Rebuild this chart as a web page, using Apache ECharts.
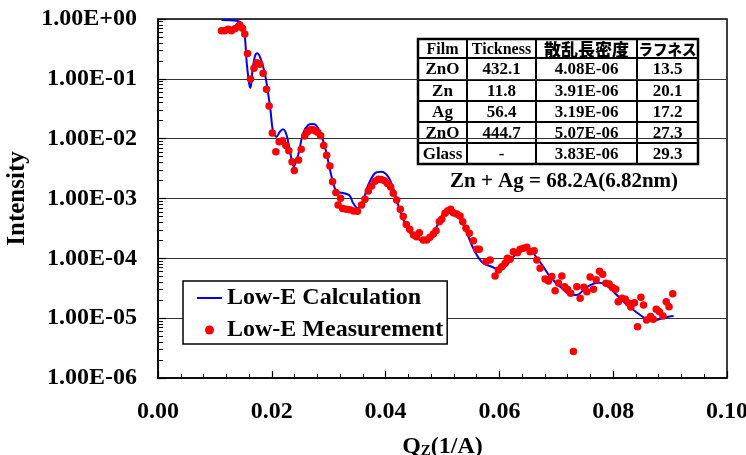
<!DOCTYPE html>
<html><head><meta charset="utf-8">
<script src="https://cdn.jsdelivr.net/npm/echarts@6/dist/echarts.min.js"></script>
<style>html,body{margin:0;padding:0;background:#fff}#c{width:746px;height:455px}</style>
</head><body><div id="c"></div>
<script>
// ---- data ----
const calcQ = [0.01115,0.01379,0.01467,0.01525,0.01555,0.01601,0.01626,0.01661,0.01701,0.01742,0.01802,0.01877,0.01935,0.01977,0.02023,0.02083,0.02141,0.02199,0.02259,0.02317,0.02387,0.02463,0.02551,0.02639,0.02727,0.02815,0.02933,0.03051,0.03139,0.03227,0.03315,0.03373,0.03431,0.03513,0.03607,0.03695,0.03812,0.03930,0.04046,0.04134,0.04222,0.04340,0.04458,0.04546,0.04692,0.04780,0.04898,0.05014,0.05132,0.05278,0.05396,0.05514,0.05602,0.05718,0.05866,0.06012,0.06130,0.06275,0.06421,0.06569,0.06685,0.06773,0.06891,0.07067,0.07273,0.07361,0.07477,0.07595,0.07741,0.07859,0.08005,0.08181,0.08357,0.08475,0.08592,0.08709,0.08856,0.08972,0.09060];
const calcI = [0.962,0.937,0.847,0.506,0.206,0.0842,0.0711,0.1406,0.2344,0.267,0.2204,0.1237,0.0573,0.0301,0.01306,0.01078,0.01306,0.01432,0.0115,0.00646,0.0034,0.00533,0.0123,0.0169,0.01758,0.0149,0.00734,0.00231,0.0013,0.00125,0.00119,0.0011,0.000831,0.000686,0.000944,0.00168,0.00264,0.00281,0.00231,0.00148,0.000778,0.000385,0.000245,0.000216,0.00019,0.000202,0.000337,0.000565,0.000686,0.00053,0.000318,0.000167,0.000114,0.0000826,0.0000724,0.0000638,0.0000773,0.000114,0.000147,0.000129,0.0000938,0.0000724,0.0000493,0.0000336,0.0000244,0.0000244,0.0000296,0.0000358,0.0000392,0.0000368,0.0000277,0.0000188,0.0000137,0.0000113,0.00000957,0.00000906,0.00000993,0.0000106,0.0000109];
const measQ = [0.01115,0.01173,0.01232,0.01291,0.01349,0.01407,0.01437,0.01485,0.01525,0.01573,0.01626,0.01687,0.01736,0.01789,0.01847,0.01907,0.01953,0.02009,0.02071,0.02129,0.02189,0.02247,0.02299,0.02356,0.02396,0.02470,0.02516,0.02577,0.02625,0.02669,0.02716,0.02760,0.02806,0.02859,0.02912,0.02963,0.03021,0.03068,0.03126,0.03165,0.03209,0.03244,0.03308,0.03373,0.03438,0.03505,0.03578,0.03637,0.03695,0.03754,0.03812,0.03871,0.03922,0.03980,0.04032,0.04089,0.04134,0.04194,0.04258,0.04310,0.04363,0.04423,0.04490,0.04543,0.04592,0.04662,0.04722,0.04780,0.04838,0.04886,0.04944,0.04986,0.05044,0.05092,0.05144,0.05190,0.05250,0.05308,0.05355,0.05413,0.05471,0.05542,0.05602,0.05647,0.05765,0.05836,0.05924,0.05982,0.06042,0.06100,0.06140,0.06188,0.06246,0.06316,0.06363,0.06421,0.06481,0.06539,0.06610,0.06657,0.06715,0.06803,0.06861,0.06921,0.06979,0.07037,0.07097,0.07146,0.07199,0.07252,0.07301,0.07361,0.07419,0.07484,0.07537,0.07595,0.07653,0.07701,0.07759,0.07815,0.07873,0.07929,0.07986,0.08044,0.08088,0.08153,0.08211,0.08269,0.08311,0.08373,0.08427,0.08487,0.08533,0.08586,0.08656,0.08703,0.08756,0.08812,0.08874,0.08932,0.08981,0.09046];
const measI = [0.637,0.637,0.673,0.637,0.688,0.744,0.794,0.699,0.562,0.265,0.0993,0.150,0.186,0.175,0.1237,0.0671,0.0351,0.01243,0.00605,0.00890,0.00925,0.00769,0.00629,0.00412,0.00294,0.00440,0.00664,0.01108,0.01292,0.01396,0.01417,0.01358,0.01282,0.01116,0.00769,0.00529,0.00349,0.00191,0.00126,0.000778,0.001007,0.000680,0.000660,0.000647,0.000618,0.000611,0.000778,0.000969,0.001334,0.001617,0.001937,0.002101,0.002077,0.001983,0.001780,0.001556,0.001221,0.000944,0.000660,0.000500,0.000367,0.000306,0.000245,0.000230,0.000268,0.000202,0.000202,0.000225,0.000255,0.000289,0.000409,0.000449,0.000566,0.000625,0.000660,0.000579,0.000550,0.000510,0.000409,0.000318,0.000262,0.000197,0.0001415,0.0001415,0.0000878,0.0000938,0.0000506,0.0000638,0.0000724,0.0000826,0.0001001,0.0000963,0.000129,0.000124,0.0001415,0.000147,0.000153,0.000129,0.000134,0.0000938,0.0000681,0.0000451,0.0000418,0.0000497,0.0000288,0.0000387,0.0000506,0.0000335,0.0000301,0.0000260,0.00000277,0.0000335,0.0000215,0.0000328,0.0000277,0.0000487,0.0000303,0.0000439,0.0000607,0.0000543,0.0000382,0.0000372,0.0000325,0.0000303,0.0000188,0.0000215,0.0000207,0.0000179,0.0000154,0.0000181,0.00000720,0.0000223,0.0000166,0.00000931,0.0000107,0.00000957,0.0000141,0.0000128,0.0000109,0.0000188,0.0000155,0.0000256];
const xTickLabels = ['0.00','0.02','0.04','0.06','0.08','0.10'];
const yTickLabels = ['1.00E-06','1.00E-05','1.00E-04','1.00E-03','1.00E-02','1.00E-01','1.00E+00'];
const seriesNames = ['Low-E Calculation','Low-E Measurement'];
const tableHeader = ['Film','Tickness','散乱長密度','ラフネス'];
const tableFilm = ['ZnO','Zn','Ag','ZnO','Glass'];
const tableThick = ['432.1','11.8','56.4','444.7','-'];
const tableDensity = ['4.08E-06','3.91E-06','3.19E-06','5.07E-06','3.83E-06'];
const tableRough = ['13.5','20.1','17.2','27.3','29.3'];
const noteText = 'Zn + Ag = 68.2A(6.82nm)';

// ---- chart ----
const SERIF = "'Liberation Serif','Times New Roman',serif";
const CJK = "'Noto Sans CJK JP','Noto Sans CJK SC',sans-serif";
const chart = echarts.init(document.getElementById('c'), null, {renderer:'canvas'});

// table graphic
const colX = [0,49,118,219,280];
const rowY = [0,19,41,62,83,104,125];
const tX = 418, tY = 39;
const headerSize = [16,16,17,14.5];
const tableEls = [];
tableEls.push({type:'rect', shape:{x:0,y:0,width:colX[4],height:rowY[6]}, style:{fill:'#fff', stroke:'#000', lineWidth:2.5}});
for (let i=1;i<rowY.length-1;i++) tableEls.push({type:'line', shape:{x1:0,y1:rowY[i],x2:colX[4],y2:rowY[i]}, style:{stroke:'#000', lineWidth:2}});
for (let j=1;j<colX.length-1;j++) tableEls.push({type:'line', shape:{x1:colX[j],y1:0,x2:colX[j],y2:rowY[6]}, style:{stroke:'#000', lineWidth:2}});
const cols = [tableFilm, tableThick, tableDensity, tableRough];
tableHeader.forEach((h,j)=>{
  const cjk = j>=2;
  tableEls.push({type:'text', style:{text:h, x:(colX[j]+colX[j+1])/2, y:(rowY[0]+rowY[1])/2+1, align:'center', verticalAlign:'middle',
    fontFamily: cjk?CJK:SERIF, fontWeight: cjk?900:'bold', fontSize: headerSize[j], fill:'#000'}});
});
cols.forEach((col,j)=>{
  col.forEach((v,i)=>{
    tableEls.push({type:'text', style:{text:v, x:(colX[j]+colX[j+1])/2, y:(rowY[i+1]+rowY[i+2])/2+1, align:'center', verticalAlign:'middle',
      fontFamily:SERIF, fontWeight:'bold', fontSize:17, fill:'#000'}});
  });
});

const option = {
  backgroundColor:'#fff',
  animation:false,
  grid:{left:158, right:19, top:19, bottom:77, containLabel:false, outerBoundsMode:'none', show:true, borderColor:'#000', borderWidth:1.5},
  legend:{
    orient:'vertical', left:183, top:281, backgroundColor:'#fff', borderColor:'#000', borderWidth:1.5, borderRadius:0,
    padding:[5,4,2,14], itemGap:8, itemWidth:25, itemHeight:9, itemTextGap:5,
    textStyle:{fontFamily:SERIF, fontWeight:'bold', fontSize:24, color:'#000'},
    data:[{name:seriesNames[0], icon:'path://M0,0h25v2h-25z'},{name:seriesNames[1], icon:'circle'}]
  },
  xAxis:{
    type:'value', min:0, max:0.1, interval:0.02,
    name:'{q|Q}{z|Z}{q|(1/A)}', nameLocation:'middle', nameGap:56,
    nameTextStyle:{rich:{q:{fontFamily:SERIF, fontWeight:'bold', fontSize:24, color:'#000'}, z:{fontFamily:SERIF, fontWeight:'bold', fontSize:15, color:'#000', padding:[10,0,0,0]}}},
    axisLine:{show:true, lineStyle:{color:'#000', width:1.5}},
    axisTick:{show:true, inside:true, length:7, lineStyle:{color:'#000', width:1.2}},
    minorTick:{show:true, splitNumber:5, length:4, lineStyle:{color:'#000', width:1}},
    splitLine:{show:false},
    axisLabel:{margin:22, fontFamily:SERIF, fontWeight:'bold', fontSize:24, color:'#000',
      formatter:(v)=>xTickLabels[Math.round(v/0.02)]}
  },
  yAxis:{
    type:'log', logBase:10, min:1e-6, max:1, interval:1,
    name:'Intensity', nameLocation:'middle', nameRotate:90, nameGap:128,
    nameTextStyle:{fontFamily:SERIF, fontWeight:'bold', fontSize:25, color:'#000'},
    axisLine:{show:true, lineStyle:{color:'#000', width:1.5}},
    axisTick:{show:true, inside:true, length:8, lineStyle:{color:'#000', width:1.2}},
    minorTick:{show:true, splitNumber:9, length:5, lineStyle:{color:'#000', width:1}},
    splitLine:{show:true, lineStyle:{color:'#333', width:1.2}},
    axisLabel:{margin:21, fontFamily:SERIF, fontWeight:'bold', fontSize:24, color:'#000',
      formatter:(v)=>yTickLabels[Math.round(Math.log10(v))+6]}
  },
  series:[
    {name:seriesNames[0], type:'line', data:calcQ.map((q,i)=>[q,calcI[i]]), symbol:'none', smooth:0.35,
     lineStyle:{color:'#0000ff', width:2}, itemStyle:{color:'#0000ff'}, z:3},
    {name:seriesNames[1], type:'scatter', data:measQ.map((q,i)=>[q,measI[i]]), symbol:'circle', symbolSize:7.5,
     itemStyle:{color:'#ff0000', opacity:1}, z:4}
  ],
  graphic:[
    {type:'group', x:tX, y:tY, z:100, children:tableEls},
    {type:'text', z:100, style:{text:noteText, x:564, y:182, align:'center', verticalAlign:'middle', fontFamily:SERIF, fontWeight:'bold', fontSize:21, fill:'#000'}}
  ]
};
chart.setOption(option);
</script>
</body></html>
